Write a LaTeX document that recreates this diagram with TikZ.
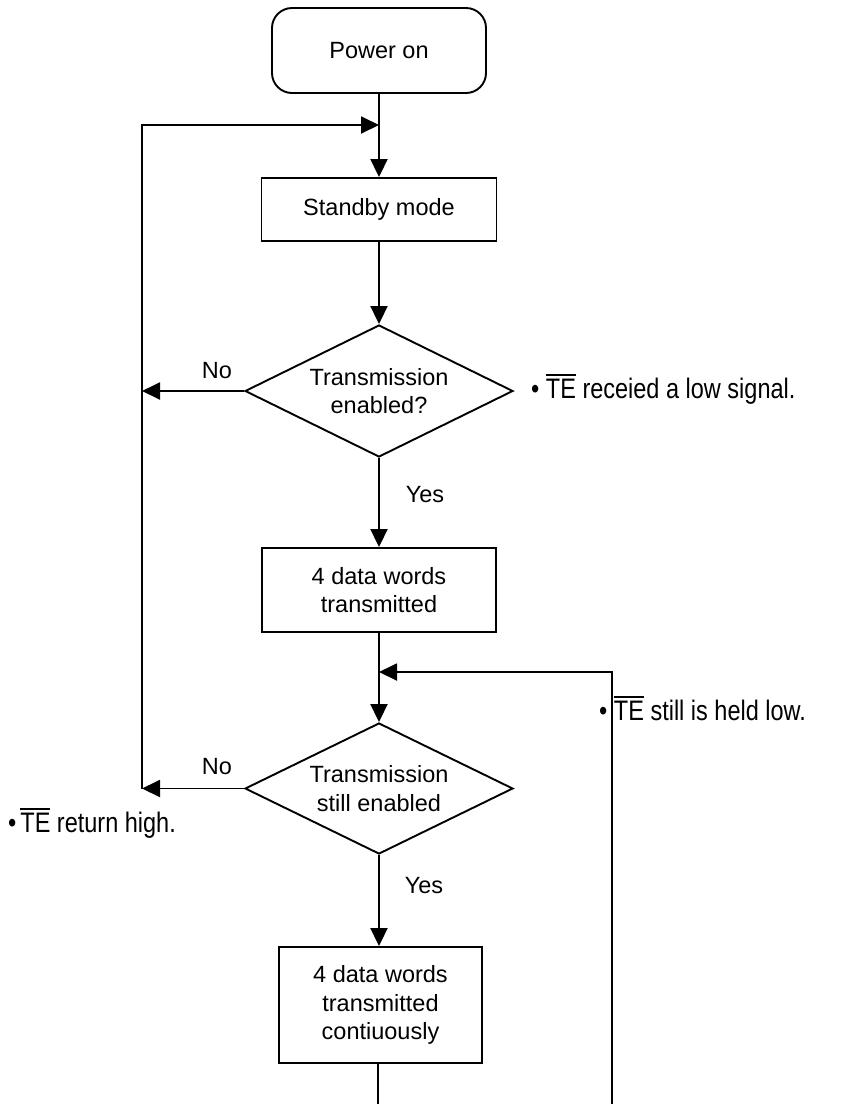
\documentclass[tikz,border=0pt]{standalone}
\usepackage{fontspec}
\setmainfont{Liberation Sans}
\usetikzlibrary{shapes.geometric,arrows.meta}
\newcommand\ovlbar[1]{\vbox{\hrule height 1.5pt\kern 2pt\hbox{#1}}}
\newcommand\tallnote[1]{\scalebox{1}[1.2]{#1}}
\begin{document}
\begin{tikzpicture}[x=1pt,y=-1pt,
  every node/.style={font=\fontsize{23.5}{28.5}\selectfont, align=center, inner sep=0pt},
  proc/.style={draw, line width=1.9pt, rectangle},
  startbox/.style={draw, line width=1.9pt, rectangle, rounded corners=20pt},
  decision/.style={draw, line width=1.9pt, diamond, aspect=2},
  conn/.style={line width=1.9pt},
  arr/.style={line width=1.9pt, -{Triangle[length=18pt,width=17pt]}},
  lbl/.style={anchor=center},
  note/.style={anchor=base west}
]
\useasboundingbox (0,0) rectangle (844,1104);

\node[startbox, minimum width=214pt, minimum height=85pt] (power) at (379,50.5) {Power on};
\node[proc, minimum width=235pt, minimum height=63pt] (standby) at (379,209.5) {Standby mode};
\node[decision, minimum width=268pt, minimum height=132pt] (d1) at (379,391) {Transmission\\enabled?};
\node[proc, minimum width=234pt, minimum height=84pt] (box2) at (379,590) {4 data words\\transmitted};
\node[decision, minimum width=268pt, minimum height=131pt] (d2) at (379,788.5) {Transmission\\still enabled};
\node[proc, minimum width=203pt, minimum height=116pt] (box3) at (380.5,1005) {4 data words\\transmitted\\contiuously};

% coordinates
\coordinate (lt) at (142,125);
\coordinate (lb) at (142,788.5);
\coordinate (j1) at (379,125);
\coordinate (j2) at (379,672);
\coordinate (rt) at (612,672);
\coordinate (rb) at (612,1104);
\coordinate (bb) at (378,1104);

% main flow
\draw[arr] (power.south) -- (standby.north);
\draw[arr] (lb) -- (lt) -- (j1);
\draw[arr] (standby.south) -- (d1.north);
\draw[arr] (d1.south) -- (box2.north);
\draw[arr] (box2.south) -- (d2.north);
\draw[arr] (d2.south) -- (d2.south |- box3.north);
\draw[arr] (d1.west) -- (d1.west -| lt);
\draw[arr] (d2.west) -- (lb);
\draw[arr] (rb) -- (rt) -- (j2);
\draw[conn] (box3.south -| bb) -- (bb);

% labels
\node[lbl] (no1) at (217,371) {No};
\node[lbl] (no2) at (217,767) {No};
\node[lbl] (yes1) at (425,495) {Yes};
\node[lbl] (yes2) at (424,886) {Yes};

% notes
\node[note] (n1) at (531,398) {\tallnote{\textbullet\ \ovlbar{TE} receied a low signal.}};
\node[note] (n2) at (8,832) {\tallnote{\textbullet\kern4pt\ovlbar{TE} return high.}};
\node[note] (n3) at (599,720) {\tallnote{\textbullet\ \ovlbar{TE} still is held low.}};
\end{tikzpicture}
\end{document}
